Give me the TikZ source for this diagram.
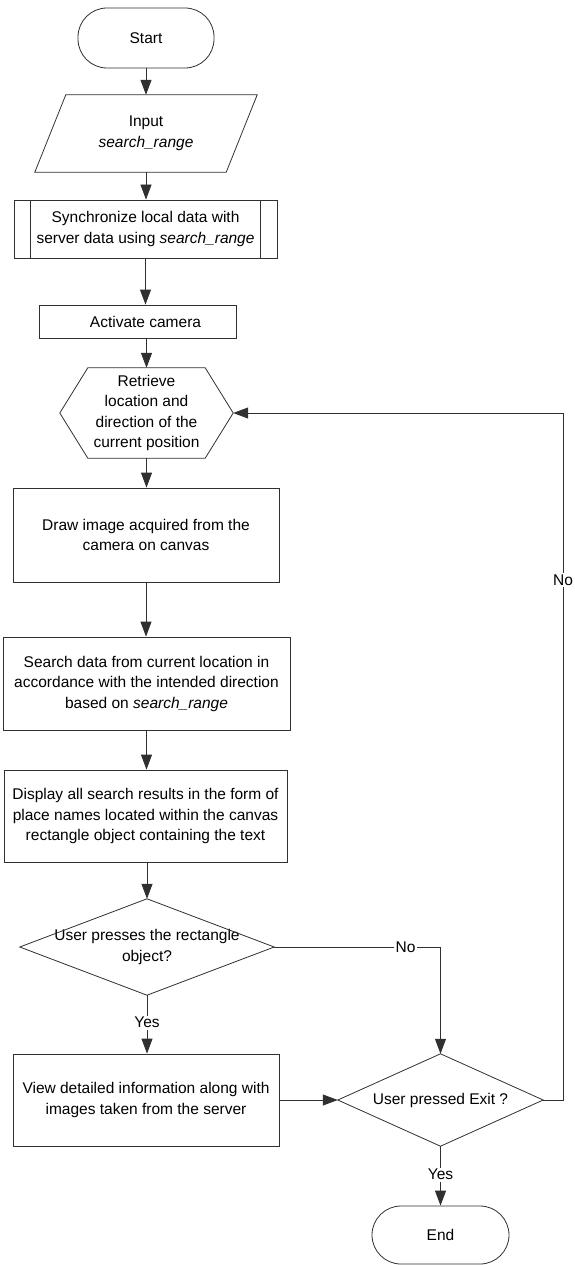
\documentclass[tikz,border=0pt]{standalone}
\usepackage{fontspec}
\setmainfont{Liberation Sans}
\usetikzlibrary{arrows.meta}
\definecolor{lc}{HTML}{303030}
\begin{document}
\begin{tikzpicture}[x=1pt,y=-1pt,
  every node/.style={font=\fontsize{15.5pt}{20.5pt}\selectfont, align=center, inner sep=0pt, text=black},
  shp/.style={draw=lc, line width=0.8pt},
  box/.style={draw=lc, line width=0.8pt, rectangle},
  term/.style={draw=lc, line width=0.8pt, rectangle, rounded corners=29pt},
  arr/.style={draw=lc, line width=0.8pt, -{Triangle[length=15pt,width=11pt]}},
  lnk/.style={draw=lc, line width=0.8pt},
  lbl/.style={fill=white, inner sep=1.5pt}]
\useasboundingbox (0,0) rectangle (575,1265);
\fill[white] (0,0) rectangle (575,1265);

% nodes
\node[term, minimum width=136pt, minimum height=60pt] (start) at (146,38) {Start};
\node[minimum width=222pt, minimum height=77pt] (input) at (146,133.5) {Input\\\textit{search\_range}};
\draw[shp] ([xshift=31pt]input.north west) -- (input.north east) -- ([xshift=-31pt]input.south east) -- (input.south west) -- cycle;
\node[box, minimum width=263pt, minimum height=58pt] (sync) at (145.5,229) {Synchronize local data with\\server data using \textit{search\_range}};
\draw[shp] ([xshift=17pt]sync.north west) -- ([xshift=17pt]sync.south west);
\draw[shp] ([xshift=-17pt]sync.north east) -- ([xshift=-17pt]sync.south east);
\node[box, minimum width=197pt, minimum height=33pt] (cam) at (137.5,321.5) {\hspace*{16pt}Activate camera};
\node[minimum width=173pt, minimum height=90pt] (hex) at (146.5,413) {Retrieve\\location and\\direction of the\\current position};
\draw[shp] (hex.west) -- ([xshift=28pt]hex.north west) -- ([xshift=-28pt]hex.north east) -- (hex.east) -- ([xshift=-28pt]hex.south east) -- ([xshift=28pt]hex.south west) -- cycle;
\node[box, minimum width=266pt, minimum height=94pt] (draw) at (146,535) {Draw image acquired from the\\camera on canvas};
\node[box, minimum width=287pt, minimum height=93pt] (search) at (146.5,683.5) {Search data from current location in\\accordance with the intended direction\\based on \textit{search\_range}};
\node[box, minimum width=283pt, minimum height=92pt] (disp) at (145.5,816) {Display all search results in the form of\\place names located within the canvas\\rectangle object containing the text};
\node[minimum width=254pt, minimum height=96pt] (d1) at (147,947) {\raisebox{3pt}{User presses the rectangle}\\\raisebox{3pt}{object?}};
\draw[shp] (d1.north) -- (d1.east) -- (d1.south) -- (d1.west) -- cycle;
\node[box, minimum width=266pt, minimum height=92pt] (view) at (146,1100) {View detailed information along with\\images taken from the server};
\node[minimum width=205pt, minimum height=92pt] (d2) at (440.5,1100) {User pressed Exit ?};
\draw[shp] (d2.north) -- (d2.east) -- (d2.south) -- (d2.west) -- cycle;
\node[term, minimum width=137pt, minimum height=58pt] (end) at (440.5,1235) {End};

% connectors
\draw[arr] (start.south) -- (start.south |- input.north);
\draw[arr] (input.south) -- (input.south |- sync.north);
\draw[arr] (sync.south) -- (sync.south |- cam.north);
\draw[arr] (cam.south -| hex.north) -- (hex.north);
\draw[arr] (hex.south) -- (hex.south |- draw.north);
\draw[arr] (draw.south) -- (draw.south |- search.north);
\draw[arr] (search.south) -- (search.south |- disp.north);
\draw[arr] (disp.south -| d1.north) -- (d1.north);
\draw[arr] (d1.south) -- node[lbl, pos=0.47]{Yes} (d1.south |- view.north);
\draw[arr] (d1.east) -- node[lbl, pos=0.79]{No} (d1.east -| d2.north) -- (d2.north);
\draw[arr] (view.east) -- (d2.west);
\coordinate (fb) at (563,1100);
\draw[arr] (d2.east) -- (fb) -- node[lbl, pos=0.757]{No} (fb |- hex.east) -- (hex.east);
\draw[arr] (d2.south) -- node[lbl, pos=0.48]{Yes} (d2.south |- end.north);
\end{tikzpicture}
\end{document}
